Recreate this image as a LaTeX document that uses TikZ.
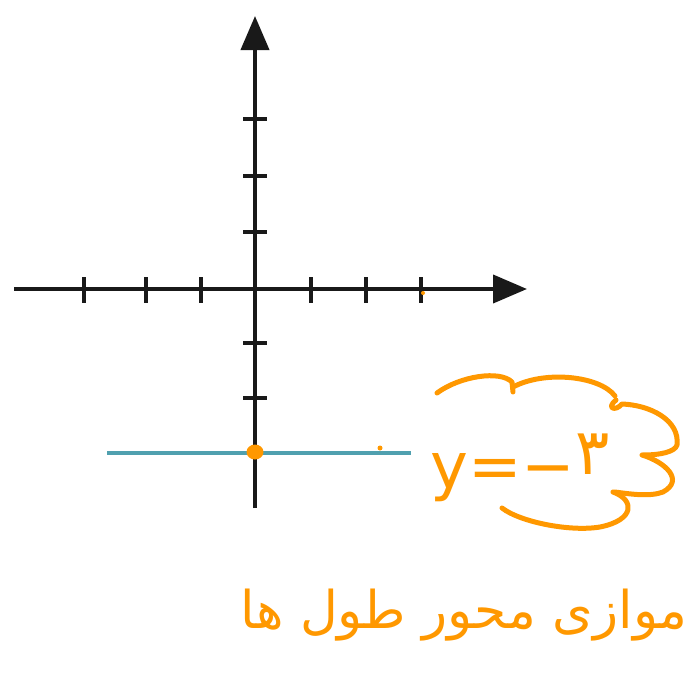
\documentclass[tikz,border=0pt]{standalone}
\usepackage{fontspec}
\usetikzlibrary{arrows.meta}
\TeXXeTstate=1
\newfontfamily\arabicfont[Script=Arabic]{DejaVu Sans}
\definecolor{hand}{RGB}{255,152,0}
\definecolor{lineblue}{RGB}{80,160,175}
\begin{document}
\begin{tikzpicture}[x=1pt,y=-1pt,
  axis/.style={line width=4pt,black!90,-{Triangle[length=34pt,width=28pt]}},
  tick/.style={line width=3.2pt,black!90},
  pen/.style={line width=5pt,hand,line cap=round,line join=round}]
\useasboundingbox (0,0) rectangle (697,691);
\coordinate (O) at (255,289);
\coordinate (xl) at (14,289);
\coordinate (xr) at (527,289);
\coordinate (yb) at (255,508);
\coordinate (yt) at (255,16);
\draw[axis] (xl) -- (xr);
\draw[axis] (yb) -- (yt);
\foreach \x in {84,146,201,311,366,421}
  \draw[tick] (\x,277) -- (\x,303);
\foreach \y in {119,176,232,343,398}
  \draw[tick] (243,\y) -- (267,\y);
\coordinate (bl) at (107,453);
\coordinate (br) at (411,453);
\draw[line width=4pt,lineblue] (bl) -- (br);
\fill[hand] (255,452) ellipse (8.5 and 7.5);
\fill[hand] (380,448) circle (2.5);
\fill[hand] (423,293) circle (2);
% cloud
\draw[pen] (437,393) .. controls (460,376) and (500,370) .. (512,382) -- (513,392);
\draw[pen] (513,387) .. controls (545,370) and (600,376) .. (615,396);
\draw[pen] (616,400) .. controls (606,408) and (615,412) .. (622,404) .. controls (650,405) and (680,420) .. (677,445) .. controls (675,452) and (660,455) .. (643,455);
\draw[pen] (642,455) .. controls (665,462) and (685,480) .. (663,492) .. controls (650,497) and (630,494) .. (615,492);
\draw[pen] (613,492) .. controls (635,500) and (635,520) .. (600,527) .. controls (570,532) and (520,522) .. (502,508);
\node[hand,font=\arabicfont\fontsize{64}{70}\selectfont,anchor=base west,inner sep=0pt] (eq) at (430,488) {y=−\raisebox{14pt}{\beginR ۳\endR}};
\node[hand,font=\arabicfont\fontsize{52}{58}\selectfont,inner sep=0pt] (txt) at (464,615) {\beginR موازی محور طول ها\endR};
\end{tikzpicture}
\end{document}
